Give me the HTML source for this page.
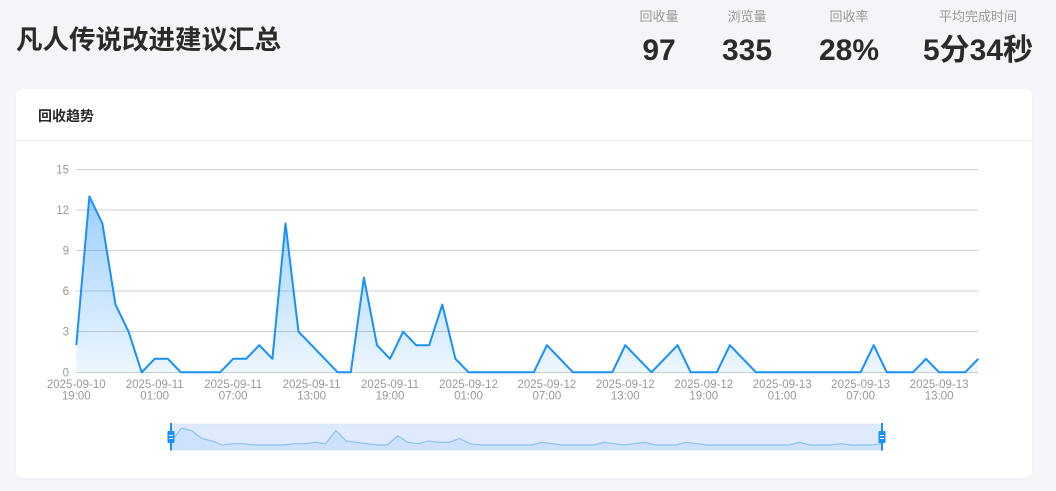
<!DOCTYPE html>
<html><head><meta charset="utf-8">
<style>
html,body{margin:0;padding:0;}
body{width:1056px;height:491px;overflow:hidden;background:#f4f5f9;position:relative;font-family:"Liberation Sans","Noto Sans CJK SC",sans-serif;}
.title{position:absolute;left:16px;top:26px;font-size:26.5px;line-height:28px;font-weight:bold;color:#2b2b2b;white-space:nowrap;letter-spacing:0;}
.stat{position:absolute;width:140px;text-align:center;}
.stat .l{position:absolute;left:0;width:140px;top:9px;font-size:13px;line-height:15px;color:#999;}
.stat .v{position:absolute;left:0;width:140px;top:36px;font-size:30px;line-height:30px;font-weight:bold;color:#2b2b2b;white-space:nowrap;}
.card{position:absolute;left:16px;top:89px;width:1016px;height:389px;background:#fff;border-radius:8px;box-shadow:0 1px 3px rgba(0,0,0,0.04);}
.card .hd{position:absolute;left:0;top:0;width:1016px;height:51px;border-bottom:1px solid #e8e8e8;}
.card .hd span{position:absolute;left:22px;top:19px;font-size:14px;line-height:16px;font-weight:bold;color:#2b2b2b;}
svg{position:absolute;left:0;top:0;}
</style></head>
<body>
<div class="title">凡人传说改进建议汇总</div>
<div class="stat" style="left:589px;top:0"><div class="l">回收量</div><div class="v">97</div></div>
<div class="stat" style="left:677px;top:0"><div class="l">浏览量</div><div class="v">335</div></div>
<div class="stat" style="left:779px;top:0"><div class="l">回收率</div><div class="v">28%</div></div>
<div class="stat" style="left:908px;top:0"><div class="l">平均完成时间</div><div class="v">5分34秒</div></div>
<div class="card"><div class="hd"><span>回收趋势</span></div></div>
<svg width="1056" height="491" viewBox="0 0 1056 491" xmlns="http://www.w3.org/2000/svg">
<defs>
<linearGradient id="ag" x1="0" y1="0" x2="0" y2="1">
<stop offset="0" stop-color="#1890ff" stop-opacity="0.42"/>
<stop offset="1" stop-color="#1890ff" stop-opacity="0.08"/>
</linearGradient>
</defs>
<g stroke="#cfcfcf" stroke-width="1">
<line x1="76" y1="169.5" x2="978" y2="169.5"/>
<line x1="76" y1="210" x2="978" y2="210"/>
<line x1="76" y1="250.5" x2="978" y2="250.5"/>
<line x1="76" y1="291" x2="978" y2="291"/>
<line x1="76" y1="331.5" x2="978" y2="331.5"/>
<line x1="76" y1="372.5" x2="978" y2="372.5"/>
</g>
<g font-family="Liberation Sans, sans-serif" font-size="11.5" fill="#999" text-anchor="end">
<text x="69" y="173.5">15</text>
<text x="69" y="214">12</text>
<text x="69" y="254.5">9</text>
<text x="69" y="295">6</text>
<text x="69" y="335.5">3</text>
<text x="69" y="376.5">0</text>
</g>
<g font-family="Liberation Sans, sans-serif" font-size="11.5" fill="#999" text-anchor="middle">
<text x="76.3" y="388">2025-09-10</text><text x="76.3" y="399.5">19:00</text>
<text x="154.7" y="388">2025-09-11</text><text x="154.7" y="399.5">01:00</text>
<text x="233.2" y="388">2025-09-11</text><text x="233.2" y="399.5">07:00</text>
<text x="311.6" y="388">2025-09-11</text><text x="311.6" y="399.5">13:00</text>
<text x="390.0" y="388">2025-09-11</text><text x="390.0" y="399.5">19:00</text>
<text x="468.5" y="388">2025-09-12</text><text x="468.5" y="399.5">01:00</text>
<text x="546.9" y="388">2025-09-12</text><text x="546.9" y="399.5">07:00</text>
<text x="625.3" y="388">2025-09-12</text><text x="625.3" y="399.5">13:00</text>
<text x="703.8" y="388">2025-09-12</text><text x="703.8" y="399.5">19:00</text>
<text x="782.2" y="388">2025-09-13</text><text x="782.2" y="399.5">01:00</text>
<text x="860.6" y="388">2025-09-13</text><text x="860.6" y="399.5">07:00</text>
<text x="939.1" y="388">2025-09-13</text><text x="939.1" y="399.5">13:00</text>
</g>
<path fill="url(#ag)" d="M76.3,345.2 L89.4,196.4 L102.4,223.5 L115.5,304.6 L128.6,331.7 L141.7,372.3 L154.7,358.8 L167.8,358.8 L180.9,372.3 L220.1,372.3 L233.2,358.8 L246.2,358.8 L259.3,345.2 L272.4,358.8 L285.5,223.5 L298.5,331.7 L311.6,345.2 L324.7,358.8 L337.7,372.3 L350.8,372.3 L363.9,277.6 L377.0,345.2 L390.0,358.8 L403.1,331.7 L416.2,345.2 L429.2,345.2 L442.3,304.6 L455.4,358.8 L468.5,372.3 L533.8,372.3 L546.9,345.2 L560.0,358.8 L573.0,372.3 L612.3,372.3 L625.3,345.2 L638.4,358.8 L651.5,372.3 L664.5,358.8 L677.6,345.2 L690.7,372.3 L716.8,372.3 L729.9,345.2 L743.0,358.8 L756.0,372.3 L860.6,372.3 L873.7,345.2 L886.8,372.3 L912.9,372.3 L926.0,358.8 L939.1,372.3 L965.2,372.3 L978.3,358.8 L978.3,372.3 L76.3,372.3 Z"/>
<path fill="none" stroke="#1890ff" stroke-width="2" stroke-linejoin="round" d="M76.3,345.2 L89.4,196.4 L102.4,223.5 L115.5,304.6 L128.6,331.7 L141.7,372.3 L154.7,358.8 L167.8,358.8 L180.9,372.3 L220.1,372.3 L233.2,358.8 L246.2,358.8 L259.3,345.2 L272.4,358.8 L285.5,223.5 L298.5,331.7 L311.6,345.2 L324.7,358.8 L337.7,372.3 L350.8,372.3 L363.9,277.6 L377.0,345.2 L390.0,358.8 L403.1,331.7 L416.2,345.2 L429.2,345.2 L442.3,304.6 L455.4,358.8 L468.5,372.3 L533.8,372.3 L546.9,345.2 L560.0,358.8 L573.0,372.3 L612.3,372.3 L625.3,345.2 L638.4,358.8 L651.5,372.3 L664.5,358.8 L677.6,345.2 L690.7,372.3 L716.8,372.3 L729.9,345.2 L743.0,358.8 L756.0,372.3 L860.6,372.3 L873.7,345.2 L886.8,372.3 L912.9,372.3 L926.0,358.8 L939.1,372.3 L965.2,372.3 L978.3,358.8"/>
<rect x="171" y="424" width="711" height="26" fill="#dfeafd" stroke="#d6e0f0" stroke-width="0.6"/>
<path fill="#1890ff" fill-opacity="0.08" d="M171,442.4 L181.3,428 L191.6,430.6 L201.9,438.5 L212.2,441.1 L222.5,445 L232.8,443.7 L243.1,443.7 L253.4,445 L284.3,445 L294.6,443.7 L305.0,443.7 L315.3,442.4 L325.6,443.7 L335.9,430.6 L346.2,441.1 L377.1,445 L387.4,445 L397.7,435.8 L408.0,442.4 L418.3,443.7 L428.6,441.1 L438.9,442.4 L449.2,442.4 L459.5,438.5 L469.8,443.7 L480.1,445 L531.6,445 L541.9,442.4 L552.2,443.7 L562.6,445 L593.5,445 L603.8,442.4 L614.1,443.7 L624.4,445 L634.7,443.7 L645.0,442.4 L655.3,445 L675.9,445 L686.2,442.4 L696.5,443.7 L706.8,445 L789.2,445 L799.5,442.4 L809.8,445 L830.5,445 L840.8,443.7 L851.1,445 L871.7,445 L882,443.7 L882,450 L171,450 Z"/>
<path fill="none" stroke="#8ec2f6" stroke-width="1.2" d="M171,442.4 L181.3,428 L191.6,430.6 L201.9,438.5 L212.2,441.1 L222.5,445 L232.8,443.7 L243.1,443.7 L253.4,445 L284.3,445 L294.6,443.7 L305.0,443.7 L315.3,442.4 L325.6,443.7 L335.9,430.6 L346.2,441.1 L377.1,445 L387.4,445 L397.7,435.8 L408.0,442.4 L418.3,443.7 L428.6,441.1 L438.9,442.4 L449.2,442.4 L459.5,438.5 L469.8,443.7 L480.1,445 L531.6,445 L541.9,442.4 L552.2,443.7 L562.6,445 L593.5,445 L603.8,442.4 L614.1,443.7 L624.4,445 L634.7,443.7 L645.0,442.4 L655.3,445 L675.9,445 L686.2,442.4 L696.5,443.7 L706.8,445 L789.2,445 L799.5,442.4 L809.8,445 L830.5,445 L840.8,443.7 L851.1,445 L871.7,445 L882,443.7"/>
<g>
<line x1="171" y1="423" x2="171" y2="450.5" stroke="#1890ff" stroke-width="2"/>
<rect x="167.5" y="431" width="7" height="12" rx="1" fill="#1890ff"/>
<line x1="169" y1="435.5" x2="173" y2="435.5" stroke="#fff" stroke-width="1"/>
<line x1="169" y1="438.5" x2="173" y2="438.5" stroke="#fff" stroke-width="1"/>
<line x1="882" y1="423" x2="882" y2="450.5" stroke="#1890ff" stroke-width="2"/>
<rect x="878.5" y="431" width="7" height="12" rx="1" fill="#1890ff"/>
<line x1="880" y1="435.5" x2="884" y2="435.5" stroke="#fff" stroke-width="1"/>
<line x1="880" y1="438.5" x2="884" y2="438.5" stroke="#fff" stroke-width="1"/>
</g>
</svg>
</body></html>
